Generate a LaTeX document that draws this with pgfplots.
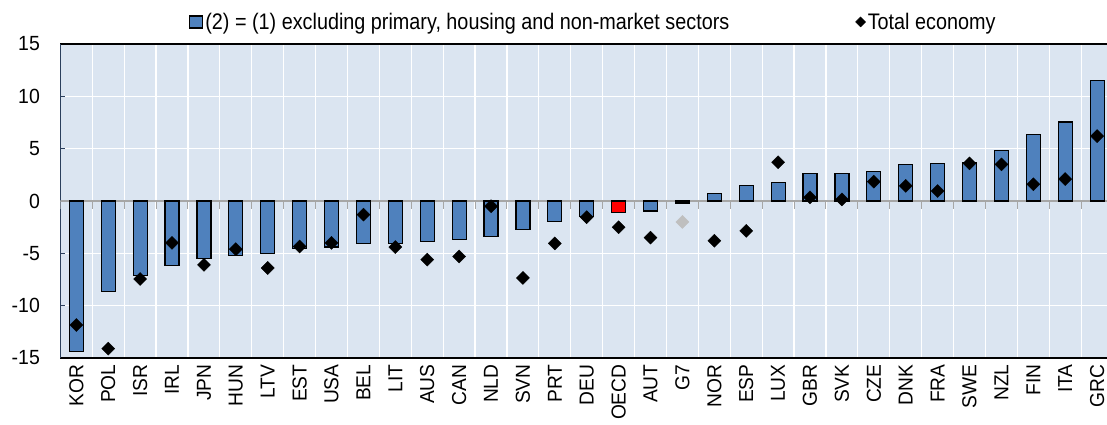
\documentclass[border=0pt]{standalone}
\usepackage{pgfplots}
\pgfplotsset{compat=1.18}
\usepackage{pgfplotstable}
\usepackage{fontspec}
\setmainfont[FakeStretch=0.95]{Liberation Sans}
\newfontfamily\legfont[FakeStretch=0.88]{Liberation Sans}
\definecolor{bg}{HTML}{DBE5F1}
\definecolor{barblue}{HTML}{4F81BD}
\definecolor{axnavy}{HTML}{2B3F5C}
\definecolor{g7grey}{HTML}{BFBFBF}
\pgfplotstableread{
x bar total
0 -14.4 -11.85
1 -8.65 -14.1
2 -7.1 -7.45
3 -6.2 -4.0
4 -5.5 -6.1
5 -5.2 -4.6
6 -5.0 -6.4
7 -4.5 -4.35
8 -4.4 -4.0
9 -4.05 -1.3
10 -4.05 -4.4
11 -3.9 -5.6
12 -3.7 -5.3
13 -3.4 -0.5
14 -2.75 -7.35
15 -1.95 -4.05
16 -1.5 -1.55
18 -0.95 -3.5
19 -0.2 nan
20 0.7 -3.8
21 1.45 -2.85
22 1.75 3.7
23 2.6 0.35
24 2.6 0.15
25 2.85 1.85
26 3.5 1.45
27 3.6 0.95
28 3.7 3.6
29 4.8 3.5
30 6.35 1.6
31 7.55 2.1
32 11.55 6.2
}\maindata
\pgfplotstableread{
x bar total
17 -1.1 -2.5
}\oecddata
\pgfplotstableread{
x total
19 -2.0
}\gseven
\begin{document}
\begin{tikzpicture}
\begin{axis}[
  scale only axis,
  width=1046.6pt, height=314pt,
  xmin=-0.5, xmax=32.31,
  ymin=-15, ymax=15,
  axis background/.style={fill=bg},
  axis x line=box, axis y line=left,
  x axis line style={-, black, line width=1.6pt},
  y axis line style={-, axnavy, line width=1.6pt},
  xtick={0,...,32},
  xticklabels={KOR,POL,ISR,IRL,JPN,HUN,LTV,EST,USA,BEL,LIT,AUS,CAN,NLD,SVN,PRT,DEU,OECD,AUT,G7,NOR,ESP,LUX,GBR,SVK,CZE,DNK,FRA,SWE,NZL,FIN,ITA,GRC},
  xtick style={draw=none},
  minor xtick={-0.5,0.5,...,32.5},
  xminorgrids,
  minor grid style={white, line width=1.2pt},
  ytick={-15,-10,-5,0,5,10,15},
  yticklabels={-15,-10,-5,0,5,10,15},
  ymajorgrids,
  major grid style={white, line width=1.2pt},
  tick align=inside,
  major tick length=5pt,
  ytick style={axnavy, line width=1pt},
  xticklabel style={rotate=90, anchor=east, font=\fontsize{20.2}{20.2}\selectfont, xshift=-3pt},
  yticklabel style={font=\fontsize{20.5}{20.5}\selectfont, xshift=-17pt},
  legend columns=2,
  legend style={at={(rel axis cs:0.12,1)}, anchor=south west, draw=none, fill=none,
    font=\legfont\fontsize{22.5}{22.5}\selectfont, yshift=9pt,
    /tikz/every even column/.append style={column sep=124pt}},
]
\addplot[gray!70, line width=1.2pt, forget plot] coordinates {(-0.5,0) (32.5,0)};
\pgfplotsinvokeforeach{-0.5,0.5,...,31.5}{\draw[gray!70, line width=1pt] (axis cs:#1,0) -- ++(0pt,-8pt);}
\addplot[ybar, bar width=14pt, bar shift=0pt, fill=barblue, draw=black, line width=1.2pt,
  legend image code/.code={\draw[fill=barblue, draw=black, line width=1.2pt] (0pt,-6pt) rectangle (13pt,6pt);}]
  table[x=x, y=bar] {\maindata};
\addlegendentry{(2) = (1) excluding primary, housing and non-market sectors}
\addplot[only marks, mark=square*, mark size=4.6pt, mark options={rotate=45, fill=black, draw=black},
  legend image code/.code={\fill[black] (0pt,0pt) -- (5pt,5pt) -- (10pt,0pt) -- (5pt,-5pt) -- cycle;}]
  table[x=x, y=total] {\maindata};
\addlegendentry{Total economy}
\addplot[ybar, bar width=14pt, bar shift=0pt, fill=red, draw=black, line width=1.2pt, forget plot]
  table[x=x, y=bar] {\oecddata};
\addplot[only marks, mark=square*, mark size=4.6pt, mark options={rotate=45, fill=black, draw=black}, forget plot]
  table[x=x, y=total] {\oecddata};
\addplot[only marks, mark=square*, mark size=4.6pt, mark options={rotate=45, fill=g7grey, draw=g7grey}, forget plot]
  table[x=x, y=total] {\gseven};
\end{axis}
\pgfresetboundingbox
\path (-60.4pt,-66pt) rectangle (1046.6pt,358pt);
\end{tikzpicture}
\end{document}
